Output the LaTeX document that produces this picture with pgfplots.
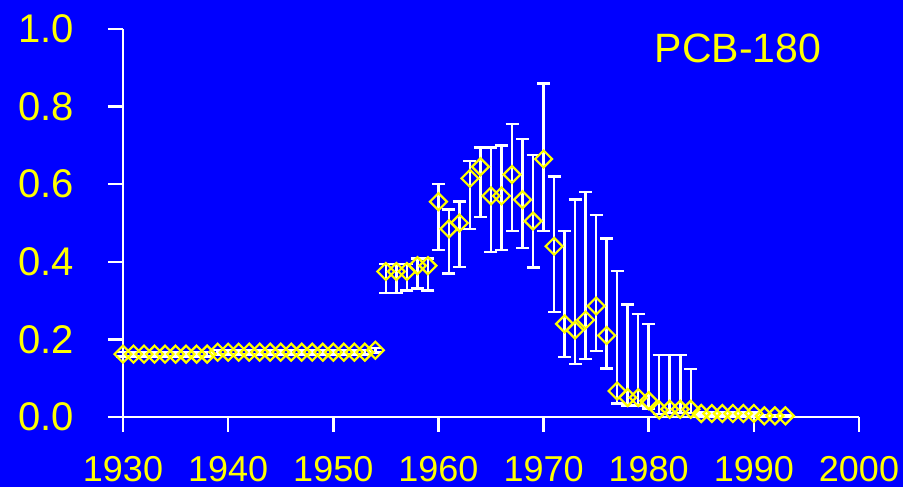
\documentclass[border=0pt]{standalone}
\usepackage{pgfplots}
\pgfplotsset{compat=1.18}
\usepackage{pgfplotstable}
\usepackage{fontspec}
\setmainfont{Liberation Sans}
\definecolor{bgblue}{RGB}{0,0,255}
\definecolor{ptyellow}{RGB}{255,255,0}

\pgfplotstableread{
x y ep em
1930 0.162 0.006 0.006
1931 0.162 0.006 0.006
1932 0.162 0.006 0.006
1933 0.162 0.006 0.006
1934 0.162 0.006 0.006
1935 0.162 0.006 0.006
1936 0.162 0.006 0.006
1937 0.162 0.006 0.006
1938 0.162 0.006 0.006
1939 0.167 0.006 0.006
1940 0.167 0.006 0.006
1941 0.167 0.006 0.006
1942 0.167 0.006 0.006
1943 0.167 0.006 0.006
1944 0.167 0.006 0.006
1945 0.167 0.006 0.006
1946 0.167 0.006 0.006
1947 0.167 0.006 0.006
1948 0.167 0.006 0.006
1949 0.167 0.006 0.006
1950 0.167 0.006 0.006
1951 0.167 0.006 0.006
1952 0.167 0.006 0.006
1953 0.167 0.006 0.006
1954 0.172 0.006 0.006
1955 0.375 0.019 0.055
1956 0.375 0.019 0.055
1957 0.375 0.019 0.049
1958 0.390 0.019 0.059
1959 0.390 0.019 0.064
1960 0.555 0.045 0.125
1961 0.485 0.050 0.115
1962 0.500 0.055 0.114
1963 0.615 0.045 0.130
1964 0.645 0.050 0.129
1965 0.570 0.125 0.145
1966 0.570 0.130 0.140
1967 0.625 0.130 0.145
1968 0.560 0.156 0.125
1969 0.505 0.170 0.120
1970 0.665 0.195 0.185
1971 0.440 0.180 0.170
1972 0.240 0.240 0.085
1973 0.224 0.336 0.088
1974 0.250 0.330 0.100
1975 0.286 0.234 0.116
1976 0.210 0.250 0.085
1977 0.067 0.309 0.032
1978 0.050 0.240 0.020
1979 0.050 0.215 0.020
1980 0.042 0.198 0.020
1981 0.018 0.142 0.010
1982 0.020 0.140 0.010
1983 0.020 0.140 0.010
1984 0.020 0.104 0.010
1985 0.009 0.003 0.003
1986 0.009 0.003 0.003
1987 0.009 0.003 0.003
1988 0.009 0.003 0.003
1989 0.009 0.003 0.003
1990 0.009 0.003 0.003
1991 0.003 0.002 0.002
1992 0.003 0.002 0.002
1993 0.003 0.002 0.002
}\pcbdata

\begin{document}
\begin{tikzpicture}
\fill[bgblue] (-123pt,-70pt) rectangle (780pt,417pt);
\begin{axis}[
  at={(0pt,0pt)}, anchor=south west,
  scale only axis,
  width=736pt, height=388pt,
  xmin=1930, xmax=2000, ymin=0, ymax=1.0,
  axis x line=bottom, axis y line=left,
  axis line style={white, line width=2.5pt, -},
  xtick={1930,1940,...,2000},
  ytick={0,0.2,0.4,0.6,0.8,1.0},
  tick align=outside,
  major tick length=15pt,
  tick style={white, line width=2.5pt},
  /pgf/number format/assume math mode=true,
  x tick label style={/pgf/number format/1000 sep={}},
  y tick label style={/pgf/number format/fixed, /pgf/number format/fixed zerofill, /pgf/number format/precision=1},
  xticklabel style={anchor=base, inner sep=0pt, yshift=-49pt, font=\fontsize{36}{40}\selectfont, text=ptyellow},
  yticklabel style={anchor=east, inner sep=0pt, xshift=-34pt, font=\fontsize{40}{44}\selectfont, text=ptyellow},
  clip=false,
]
\addplot[
  only marks,
  mark=square,
  mark size=6pt,
  mark options={rotate=45, draw=ptyellow, fill=none, line width=2.2pt},
  error bars/.cd,
    y dir=both, y explicit,
    error bar style={white, line width=2.5pt},
    error mark options={white, line width=2.5pt, mark size=6.5pt, rotate=90},
] table[x=x, y=y, y error plus=ep, y error minus=em] {\pcbdata};
\end{axis}
\node[anchor=base, text=ptyellow, font=\fontsize{41}{45}\selectfont, inner sep=0pt] at (615pt,354pt) {PCB-180};
\end{tikzpicture}
\end{document}
